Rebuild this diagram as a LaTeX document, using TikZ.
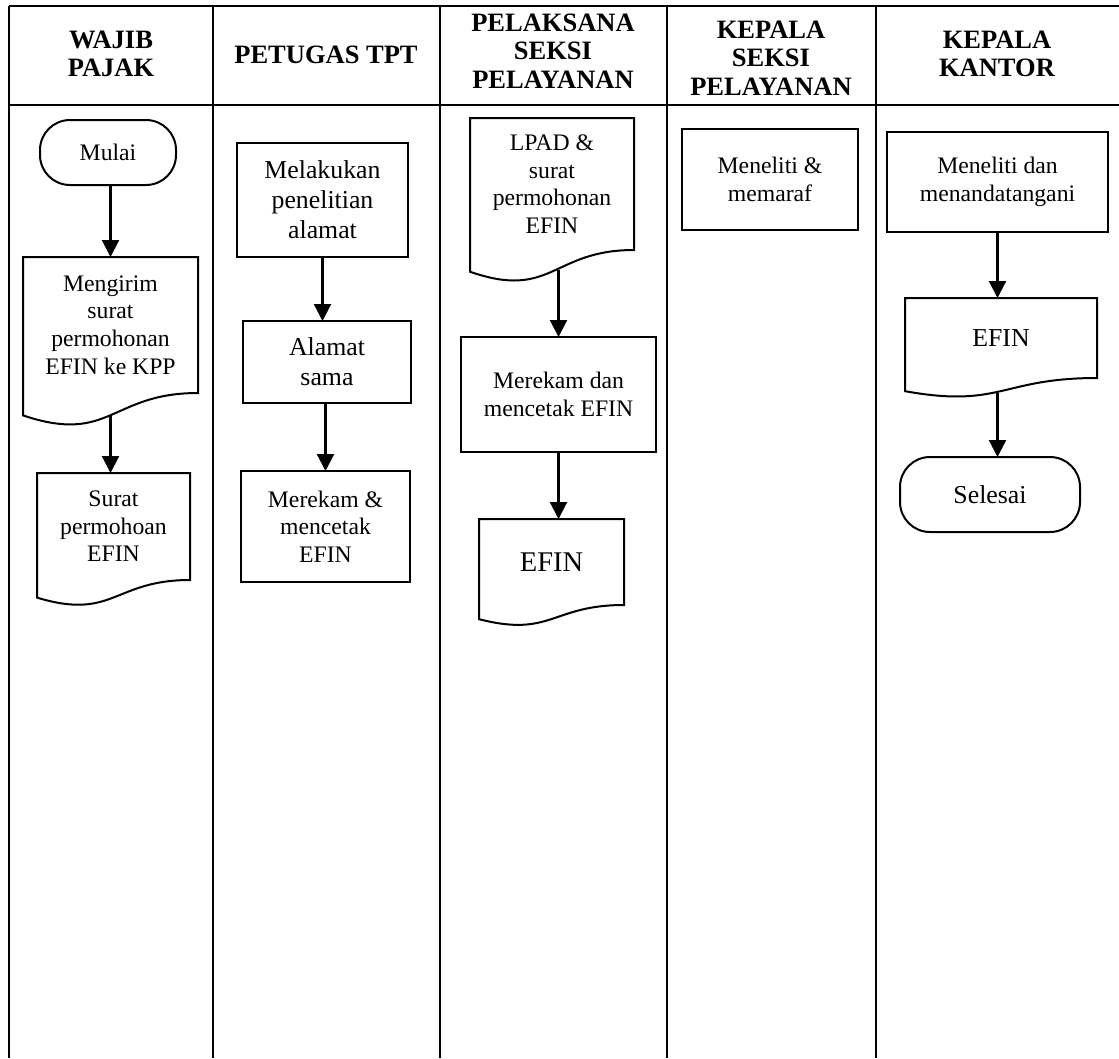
\documentclass[tikz,border=0pt]{standalone}
\usepackage{fontspec}
\setmainfont{Liberation Serif}
\usetikzlibrary{arrows.meta,calc}

\tikzset{
  lane/.style={line width=2pt},
  head/.style={font=\bfseries\fontsize{26.5}{28.5}\selectfont, align=center},
  txt/.style={font=\fontsize{23.7}{27.6}\selectfont},
  big/.style={font=\fontsize{25.8}{30}\selectfont},
  box/.style={draw, line width=2.2pt, rectangle, align=center, inner sep=0pt, outer sep=0pt},
  docbox/.style={rectangle, align=center, inner sep=0pt, outer sep=0pt},
  term/.style={draw, line width=2pt, rectangle, rounded corners=30pt, align=center, inner sep=0pt, outer sep=0pt},
  arr/.style={line width=2.2pt, -{Triangle[length=17pt,width=17pt]}},
}

\begin{document}
\begin{tikzpicture}[x=1pt, y=-1pt]
	\useasboundingbox (0,0) rectangle (1119,1058);
	% swimlanes
	\draw[lane] (9,6) -- (1119,6);
	\draw[lane] (9,105) -- (1119,105);
	\foreach \x in {9,213,440,667,876}
		\draw[lane] (\x,6) -- (\x,1058);
	\node[head] (h1) at (111,54) {WAJIB\\PAJAK};
	\node[head] (h2) at (326,55) {PETUGAS TPT};
	\node[head] (h3) at (553,51) {PELAKSANA\\SEKSI\\PELAYANAN};
	\node[head] (h4) at (771,58) {KEPALA\\SEKSI\\PELAYANAN};
	\node[head] (h5) at (997,54) {KEPALA\\KANTOR};

	% wajib pajak
	\node[term, txt, minimum width=136, minimum height=65] (mulai) at (108,152.5) {Mulai};
	\node[docbox, txt, minimum width=175, minimum height=136] (kirim) at (110.5,325) {Mengirim\\surat\\permohonan\\EFIN ke KPP};
	\node[docbox, txt, minimum width=153, minimum height=107] (surat) at (113.5,526.5) {Surat\\permohoan\\EFIN};

	% petugas tpt
	\node[box, big, minimum width=171, minimum height=114] (teliti) at (322.5,200) {Melakukan\\penelitian\\alamat};
	\node[box, big, minimum width=168, minimum height=82] (sama) at (327,362) {Alamat\\sama};
	\node[box, txt, minimum width=169, minimum height=111] (rekam) at (325.5,526.5) {Merekam \&\\mencetak\\EFIN};

	% pelaksana seksi pelayanan
	\node[docbox, txt, minimum width=164, minimum height=132] (lpad) at (552,184) {LPAD \&\\surat\\permohonan\\EFIN};
	\node[box, txt, minimum width=195, minimum height=115] (rekamefin) at (558.5,394.5) {Merekam dan\\mencetak EFIN};
	\node[docbox, font=\fontsize{28.5}{32}\selectfont, minimum width=145, minimum height=86] (efina) at (551.5,562) {EFIN};

	% kepala seksi pelayanan
	\node[box, txt, minimum width=176, minimum height=101] (maraf) at (770,179.5) {Meneliti \&\\memaraf};

	% kepala kantor
	\node[box, txt, minimum width=221, minimum height=100] (ttd) at (997.5,182) {Meneliti dan\\menandatangani};
	\node[docbox, big, minimum width=192, minimum height=80] (efinb) at (1001,338) {EFIN};
	\node[term, big, minimum width=180, minimum height=75] (selesai) at (990,494.5) {Selesai};

	% document outlines
	\foreach \d in {kirim,surat,lpad,efina,efinb}
		\draw[line width=2pt] (\d.north west) -- (\d.north east) -- (\d.south east)
			.. controls (\d.south) and ($(\d.south)!-0.381!(\d.north)$) .. ($(\d.south west)!-0.1646!(\d.north west)$) -- cycle;

	% flow
	\draw[arr] (kirim.north |- mulai.south) -- (kirim.north);
	\draw[arr] ($(kirim.south)!-0.17!(kirim.north)$) -- (kirim.south |- surat.north);
	\draw[arr] (teliti.south) -- (teliti.south |- sama.north);
	\draw[arr] (rekam.north |- sama.south) -- (rekam.north);
	\draw[arr] ([yshift=-20pt]lpad.south -| rekamefin.north) -- (rekamefin.north);
	\draw[arr] (rekamefin.south) -- (rekamefin.south |- efina.north);
	\draw[arr] (ttd.south) -- (ttd.south |- efinb.north);
	\draw[arr] ([yshift=-15pt]efinb.south -| ttd.south) -- (ttd.south |- selesai.north);
\end{tikzpicture}
\end{document}
